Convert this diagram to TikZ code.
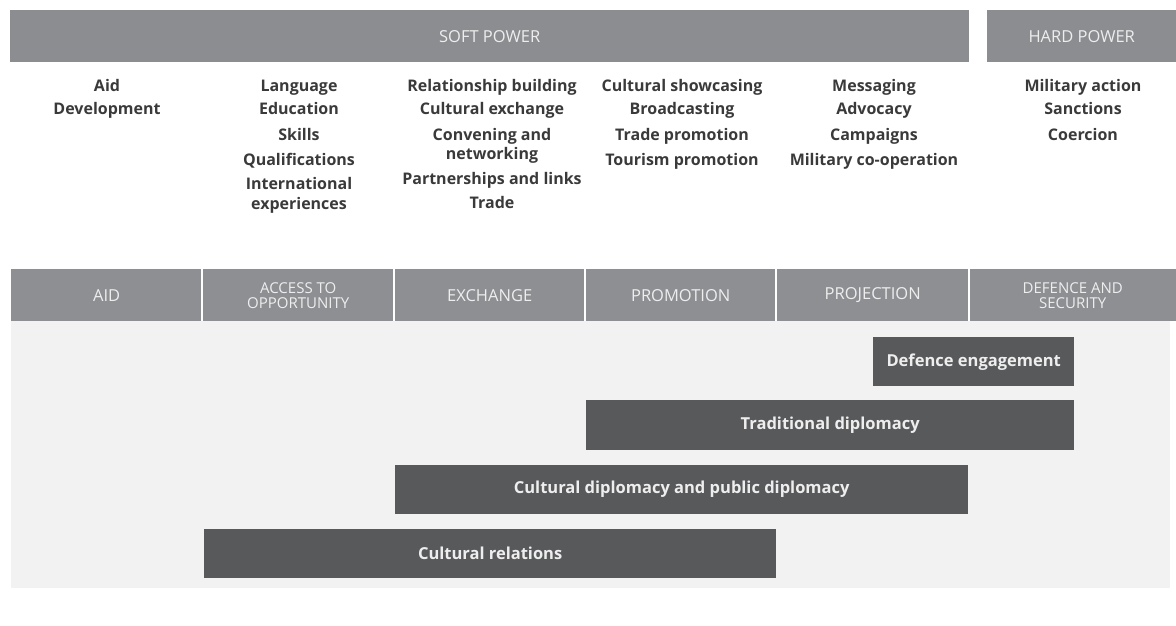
\documentclass[tikz,border=0pt]{standalone}
\usepackage{fontspec}
\setmainfont{Open Sans}
\definecolor{bandgray}{HTML}{8B8D90}
\definecolor{cellgray}{HTML}{8D8F92}
\definecolor{panelgray}{HTML}{F2F2F2}
\definecolor{bardark}{HTML}{58595B}
\definecolor{itemtext}{HTML}{3A3A3A}
\definecolor{lighttext}{HTML}{EEEEEE}
\begin{document}
\begin{tikzpicture}[x=1pt,y=-1pt,
  powerband/.style={fill=bandgray,draw=none,anchor=north west,inner sep=0pt,
    minimum height=52pt,text=lighttext,font=\fontsize{16.5}{14}\selectfont},
  headcell/.style={fill=cellgray,draw=none,anchor=north west,inner sep=0pt,
    minimum height=52pt,text=lighttext,align=center,
    font=\fontsize{16.5}{14}\selectfont},
  twoline/.style={font=\fontsize{15}{15}\selectfont},
  divider/.style={draw=white,line width=2pt},
  panel/.style={fill=panelgray,draw=none,anchor=north west,inner sep=0pt},
  rolebar/.style={fill=bardark,draw=none,anchor=north west,inner sep=0pt,
    text=lighttext,font=\bfseries\fontsize{16.5}{19}\selectfont},
  item/.style={anchor=base,inner sep=0pt,text=itemtext,
    font=\bfseries\fontsize{16}{19}\selectfont}]
\useasboundingbox (0,0) rectangle (1176,625);

% power bands
\node[powerband,minimum width=959pt] (soft) at (10,10) {SOFT POWER};
\node[powerband,minimum width=189pt] (hard) at (987,10) {HARD POWER};

% instruments under each column
\foreach \txt/\yy [count=\k] in {Aid/91,Development/114}
  \node[item] (aidl-\k) at (107,\yy) {\txt};
\foreach \txt/\yy [count=\k] in {Language/91,Education/114,Skills/140,
    Qualifications/165,International/189,experiences/209}
  \node[item] (accl-\k) at (299,\yy) {\txt};
\foreach \txt/\yy [count=\k] in {Relationship building/91,Cultural exchange/114,
    Convening and/140,networking/159,Partnerships and links/184,Trade/208}
  \node[item] (excl-\k) at (492,\yy) {\txt};
\foreach \txt/\yy [count=\k] in {Cultural showcasing/91,Broadcasting/114,
    Trade promotion/140,Tourism promotion/165}
  \node[item] (proml-\k) at (682,\yy) {\txt};
\foreach \txt/\yy [count=\k] in {Messaging/91,Advocacy/114,Campaigns/140,
    Military co-operation/165}
  \node[item] (projl-\k) at (874,\yy) {\txt};
\foreach \txt/\yy [count=\k] in {Military action/91,Sanctions/114,Coercion/140}
  \node[item] (defl-\k) at (1083,\yy) {\txt};

% background panel for the activity bars
\node[panel,minimum width=1159pt,minimum height=267pt] (area) at (11,321) {};

% column headings
\node[headcell,minimum width=191pt] (h1) at (11,269) {AID};
\node[headcell,twoline,minimum width=192pt] (h2) at (202,269) {ACCESS TO\\OPPORTUNITY};
\node[headcell,minimum width=191pt] (h3) at (394,269) {EXCHANGE};
\node[headcell,minimum width=191pt] (h4) at (585,269) {PROMOTION};
\node[headcell,minimum width=193pt] (h5) at (776,269) {PROJECTION};
\node[headcell,twoline,minimum width=207pt] (h6) at (969,269) {DEFENCE AND\\SECURITY};
\foreach \c in {h1,h2,h3,h4,h5}
  \draw[divider] (\c.north east) -- (\c.south east);

% activity bars
\node[rolebar,minimum width=201pt,minimum height=49pt] (defeng) at (873,337) {Defence engagement};
\node[rolebar,minimum width=488pt,minimum height=50pt] (tradip) at (586,400) {Traditional diplomacy};
\node[rolebar,minimum width=573pt,minimum height=49pt] (culdip) at (395,465) {Cultural diplomacy and public diplomacy};
\node[rolebar,minimum width=572pt,minimum height=49pt] (culrel) at (204,529) {Cultural relations};
\end{tikzpicture}
\end{document}
